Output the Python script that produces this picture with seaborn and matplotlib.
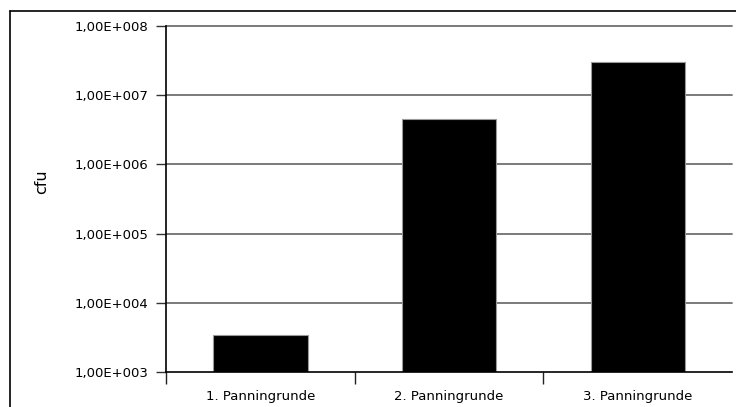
import matplotlib
matplotlib.use("Agg")
import matplotlib.pyplot as plt
import seaborn as sns
import pandas as pd
from matplotlib.lines import Line2D
from matplotlib.ticker import FixedLocator, NullLocator

# Colony-forming units after each panning round
rounds = ["1. Panningrunde", "2. Panningrunde", "3. Panningrunde"]
cfu = [3.4e3, 4.5e6, 3.0e7]

# Logarithmic axis ticks and their labels
tick_values = [1e3, 1e4, 1e5, 1e6, 1e7, 1e8]
tick_labels = ["1,00E+003", "1,00E+004", "1,00E+005",
               "1,00E+006", "1,00E+007", "1,00E+008"]

sns.set_theme(style="white")
plt.rcParams["font.family"] = ["DejaVu Sans"]

W, H = 736, 407
fig = plt.figure(figsize=(W / 100, H / 100), dpi=100)
ax = fig.add_axes([166 / W, 1 - 372 / H, (732 - 166) / W, (372 - 26) / H])
ax.set_yscale("log")

df = pd.DataFrame({"round": rounds, "cfu": cfu})
sns.barplot(data=df, x="round", y="cfu", color="black", saturation=1,
            width=0.5, edgecolor="#9a9a9a", linewidth=0.8, ax=ax, zorder=3)

ax.set_xlim(-0.5, 2.5)
ax.set_ylim(tick_values[0], tick_values[-1])

# Horizontal gridlines at each decade
for v in tick_values[1:]:
    ax.axhline(v, color="#707070", lw=1.3, zorder=1, clip_on=False)

ax.set_yticks(tick_values, tick_labels)
ax.yaxis.set_minor_locator(NullLocator())
ax.tick_params(axis="y", which="major", left=True, length=7.2, width=1,
               color="#333333", pad=5.5, labelsize=9.5, labelcolor="black")

ax.set_xticks(range(len(rounds)), rounds)
ax.tick_params(axis="x", which="major", bottom=False, length=0, pad=13,
               labelsize=9.5, labelcolor="black")
ax.xaxis.set_minor_locator(FixedLocator([-0.5, 0.5, 1.5]))
ax.tick_params(axis="x", which="minor", bottom=True, length=8.6, width=1,
               color="#222222")

for side in ("top", "right"):
    ax.spines[side].set_visible(False)
for side in ("left", "bottom"):
    ax.spines[side].set_color("black")
    ax.spines[side].set_linewidth(1.2)
    ax.spines[side].set_zorder(4)

ax.set_xlabel("")
ax.set_ylabel("")
fig.text(42 / W, 1 - 182 / H, "cfu", rotation=90, ha="center", va="center",
         fontsize=11.5, color="black")

# Outer frame around the chart area
fig.add_artist(Line2D([10 / W, 1], [1 - 11 / H, 1 - 11 / H],
                      transform=fig.transFigure, color="black", lw=1.2))
fig.add_artist(Line2D([10 / W, 10 / W], [0, 1 - 11 / H],
                      transform=fig.transFigure, color="black", lw=1.2))

fig.savefig("out.png", dpi=100)
